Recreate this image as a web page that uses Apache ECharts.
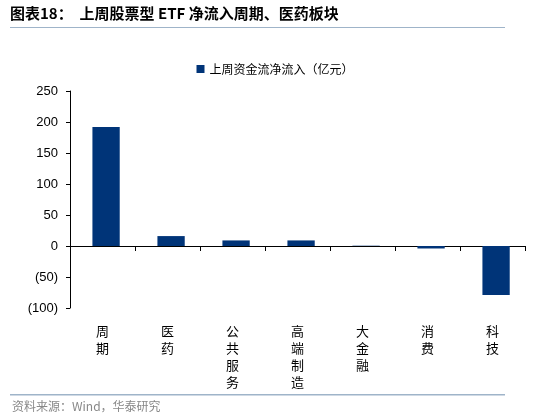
<!DOCTYPE html>
<html><head><meta charset="utf-8">
<script src="https://cdn.jsdelivr.net/npm/echarts@6/dist/echarts.min.js"></script>
<style>body{margin:0}#c{width:550px;height:420px}</style></head>
<body><div id="c"></div>
<script>
const categories = ['周期','医药','公共服务','高端制造','大金融','消费','科技'];
const values = [192, 16, 9, 9, 0.5, -4, -79];
const yTicks = [-100, -50, 0, 50, 100, 150, 200, 250];
const chart = echarts.init(document.getElementById('c'));
const F = '"Noto Sans CJK SC", sans-serif';
chart.setOption({
  animation: false,
  graphic: [
    {type:'text', left:10, top:6, style:{text:'图表18：  上周股票型 ETF 净流入周期、医药板块', font:'bold 15px '+F, fill:'#000'}},
    {type:'rect', shape:{x:10, y:27, width:495, height:1}, style:{fill:'#9fb4c9'}},
    {type:'rect', shape:{x:10, y:394, width:495, height:1.5}, style:{fill:'#9fb4c9'}},
    {type:'text', left:12, top:400, style:{text:'资料来源：Wind，华泰研究', font:'12px '+F, fill:'#888'}}
  ],
  legend: {top:58, left:'center', itemWidth:8, itemHeight:8, icon:'rect',
    textStyle:{fontFamily:F, fontSize:12, color:'#000'}},
  grid: {left:70, right:25, top:91, bottom:112},
  xAxis: {type:'category', data:categories, position:'bottom',
    axisLine:{onZero:true, lineStyle:{color:'#000'}},
    axisTick:{show:true, lineStyle:{color:'#000'}, length:5, inside:false},
    axisLabel:{show:false}},
  yAxis: [{type:'value', min:-100, max:250, interval:50,
    axisLine:{show:true, lineStyle:{color:'#000'}},
    axisTick:{show:true, length:4, lineStyle:{color:'#000'}},
    splitLine:{show:false},
    axisLabel:{color:'#000', fontSize:13, fontFamily:'Liberation Sans, Arial', margin:12,
      formatter:v=> v<0 ? '('+(-v)+')' : String(v)}}],
  series: [{name:'上周资金流净流入（亿元）', type:'bar', data:values, barWidth:'42%',
    itemStyle:{color:'#003478'}},
    {type:'bar', data:categories.map(()=>0), xAxisIndex:0, silent:true, barGap:'-100%',
     label:{show:true, position:'insideTop', formatter:p=>p.name.split('').join('\n'),
       color:'#000', fontFamily:F, fontSize:13, lineHeight:17, offset:[0,72]}}]
});
</script></body></html>
